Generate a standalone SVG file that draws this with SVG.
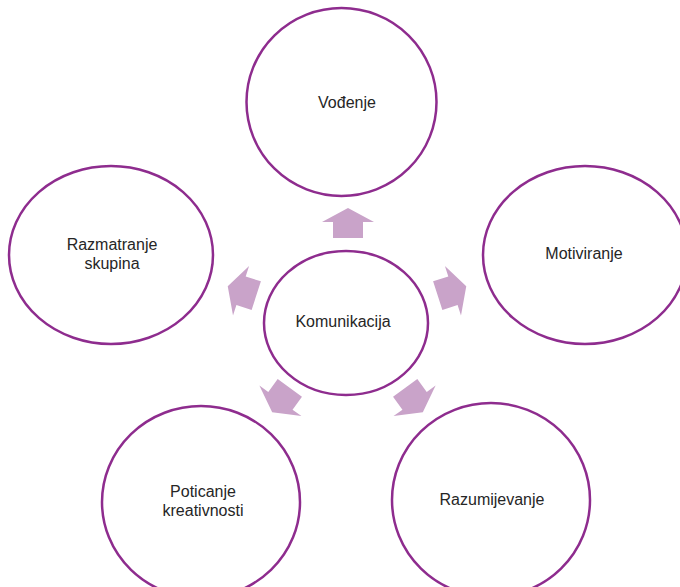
<svg xmlns="http://www.w3.org/2000/svg" width="680" height="587" viewBox="0 0 680 587">
<defs>
<style>
.node{fill:#ffffff;stroke:#8e2c8e;stroke-width:2.5}
.lbl{font-family:"Liberation Sans",Arial,sans-serif;font-size:16px;fill:#262626;text-anchor:middle}
.arr{fill:#c9a3c9}
</style>
<path id="upArrow" d="M0,-15 L26,-1 L15,-1 L15,15 L-15,15 L-15,-1 L-26,-1 Z"/>
</defs>
<rect width="680" height="587" fill="#ffffff"/>
<g id="connectors" class="arr">
<use href="#upArrow" transform="translate(348,223)"/>
<use href="#upArrow" transform="translate(452,291) rotate(72)"/>
<use href="#upArrow" transform="translate(242,291) rotate(-72)"/>
<use href="#upArrow" transform="translate(414,400) rotate(144)"/>
<use href="#upArrow" transform="translate(281,400) rotate(-144)"/>
</g>
<g id="vodenje">
<ellipse class="node" cx="341.5" cy="102" rx="95" ry="94"/>
<text class="lbl" x="347" y="108">Vođenje</text>
</g>
<g id="razmatranje">
<ellipse class="node" cx="111" cy="255" rx="102" ry="89"/>
<text class="lbl" x="112" y="250">Razmatranje</text>
<text class="lbl" x="112" y="269">skupina</text>
</g>
<g id="motiviranje">
<ellipse class="node" cx="585" cy="255" rx="102" ry="89"/>
<text class="lbl" x="584" y="259">Motiviranje</text>
</g>
<g id="komunikacija">
<ellipse class="node" cx="346" cy="323" rx="82" ry="72"/>
<text class="lbl" x="343" y="327">Komunikacija</text>
</g>
<g id="poticanje">
<ellipse class="node" cx="201" cy="502" rx="99" ry="96"/>
<text class="lbl" x="203" y="497">Poticanje</text>
<text class="lbl" x="203" y="516">kreativnosti</text>
</g>
<g id="razumijevanje">
<ellipse class="node" cx="491" cy="500" rx="99" ry="97"/>
<text class="lbl" x="492" y="505">Razumijevanje</text>
</g>
</svg>
